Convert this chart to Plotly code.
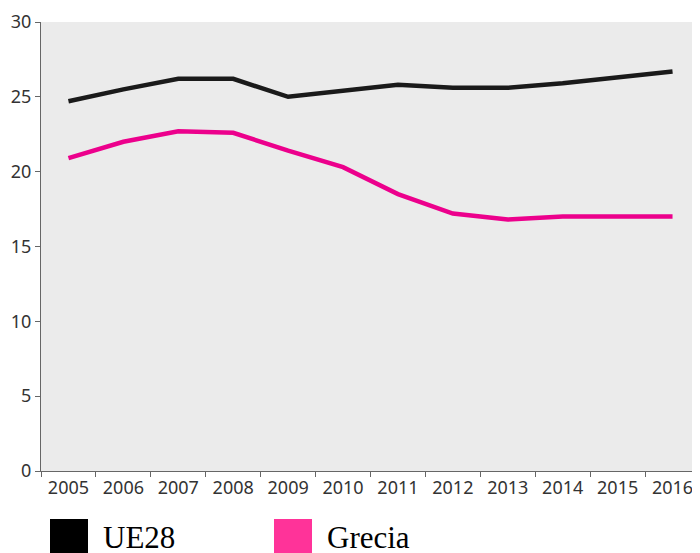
import plotly.graph_objects as go

years = ["2005", "2006", "2007", "2008", "2009", "2010", "2011", "2012", "2013", "2014", "2015", "2016"]
ue28 = [24.7, 25.5, 26.2, 26.2, 25.0, 25.4, 25.8, 25.6, 25.6, 25.9, 26.3, 26.7]
grecia = [20.9, 22.0, 22.7, 22.6, 21.4, 20.3, 18.5, 17.2, 16.8, 17.0, 17.0, 17.0]
series_names = ["UE28", "Grecia"]
line_colors = ["#1a1a1a", "#ec008c"]
legend_colors = ["#000000", "#ff3399"]

fig = go.Figure()
for name, vals, col in zip(series_names, [ue28, grecia], line_colors):
    fig.add_trace(go.Scatter(x=years, y=vals, mode="lines", name=name,
                             line=dict(color=col, width=4.5), showlegend=False))

PW, PH = 659, 449
# legend drawn manually (square swatches + serif labels)
legend_x = [9 / PW, 233 / PW]
for name, col, lx in zip(series_names, legend_colors, legend_x):
    fig.add_shape(type="rect", xref="paper", yref="paper",
                  x0=lx, x1=lx + 38 / PW, y0=-82 / PH, y1=-48 / PH,
                  fillcolor=col, line=dict(width=0))
    fig.add_annotation(xref="paper", yref="paper", x=lx + 51 / PW, y=-66 / PH,
                       text=name, showarrow=False, xanchor="left", yanchor="middle",
                       font=dict(family="Liberation Serif", size=31, color="#000000"))

fig.update_layout(
    width=692, height=545,
    margin=dict(l=33, r=0, t=14, b=82),
    paper_bgcolor="white", plot_bgcolor="#ebebeb",
    font=dict(family="Noto Sans", size=18, color="#333333"),
    xaxis=dict(type="category", range=[-0.5, 11.5], tickson="boundaries",
               ticks="outside", ticklen=5, tickcolor="#666666",
               showline=True, linecolor="#666666", linewidth=1,
               showgrid=False, zeroline=False),
    yaxis=dict(range=[0, 30], tickvals=[0, 5, 10, 15, 20, 25, 30],
               ticks="outside", ticklen=5, tickcolor="#666666",
               showline=True, linecolor="#666666", linewidth=1,
               showgrid=False, zeroline=False),
)

fig.write_html("out.html")
